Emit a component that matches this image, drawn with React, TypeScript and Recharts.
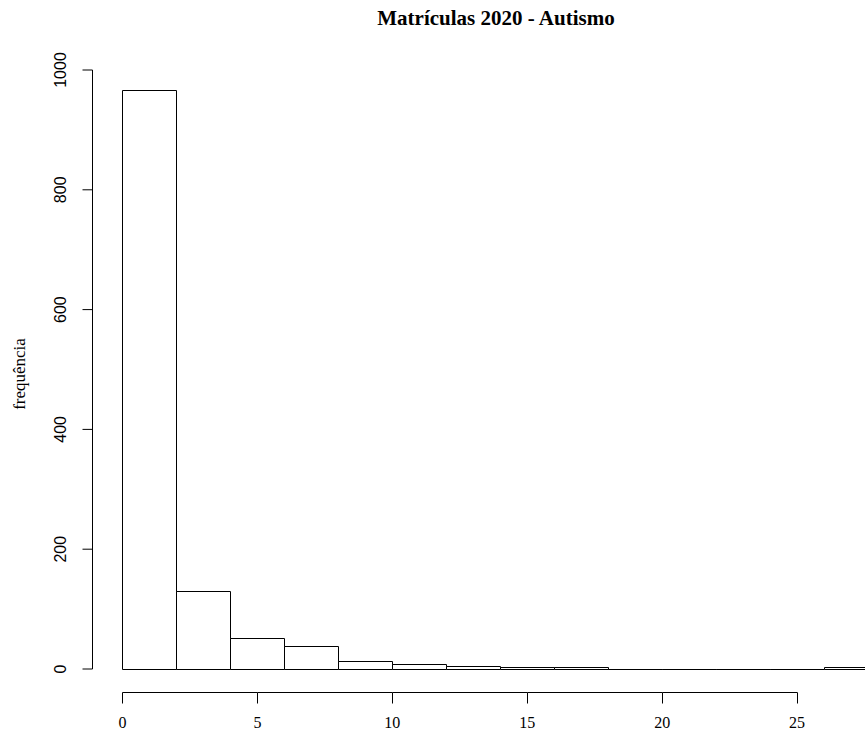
import { Bar, BarChart, XAxis, YAxis } from "recharts";

// histogram bins (width 2) and counts
const binStarts = [0, 2, 4, 6, 8, 10, 12, 14, 16, 18, 20, 22, 24, 26];
const binWidth = 2;
const counts = [966, 129, 51, 37, 13, 7, 5, 2, 2, 0, 0, 0, 0, 2];
const xTicks = [0, 5, 10, 15, 20, 25];
const yTicks = [0, 200, 400, 600, 800, 1000];

const title = "Matrículas 2020 - Autismo";
const yLabel = "frequência";

const data = binStarts.map((start, i) => ({
  bin: `${start}-${start + binWidth}`,
  mid: start + binWidth / 2,
  count: counts[i],
}));

const CHART_W = 920;
const CHART_H = 745;
const MARGIN = { top: 70, right: 17, bottom: 0, left: 0.5 };
const Y_AXIS_W = 92;
const X_AXIS_H = 76;
const PAD = { left: 30, right: 25 };
const X_MAX = binStarts[binStarts.length - 1] + binWidth;
const plotW = CHART_W - MARGIN.left - MARGIN.right - Y_AXIS_W;
const plotBottom = CHART_H - MARGIN.bottom - X_AXIS_H;
const unitPx = (plotW - PAD.left - PAD.right) / X_MAX;

const HistBar = (props: any) => {
  const { x, y, width, height } = props;
  const x0 = Math.floor(x) + 0.5;
  const x1 = Math.floor(x + width) + 0.5;
  const y0 = Math.floor(y) + 0.5;
  const y1 = Math.floor(y + height) + 0.5;
  return (
    <path
      d={`M${x0},${y1} L${x0},${y0} L${x1},${y0} L${x1},${y1} Z`}
      fill="#fff"
      stroke="#000"
      strokeWidth={1}
    />
  );
};

const XTick = (props: any) => {
  const { x, payload } = props;
  const lineY = plotBottom + 23.5;
  const px = Math.floor(x) + 0.5;
  const isLast = payload.value === xTicks[xTicks.length - 1];
  const step = (xTicks[1] - xTicks[0]) * unitPx;
  return (
    <g>
      {!isLast && (
        <line x1={px} y1={lineY} x2={px + step} y2={lineY} stroke="#000" />
      )}
      <line x1={px} y1={lineY} x2={px} y2={lineY + 11} stroke="#000" />
      <text
        x={x}
        y={plotBottom + 59}
        textAnchor="middle"
        fontFamily="'Liberation Serif', serif"
        fontSize={16}
        fill="#000"
      >
        {payload.value}
      </text>
    </g>
  );
};

const YTick = (props: any) => {
  const { x, y, payload } = props;
  const cx = x - 22;
  return (
    <text
      x={cx}
      y={y}
      transform={`rotate(-90, ${cx}, ${y})`}
      textAnchor="middle"
      dominantBaseline="central"
      fontFamily="'Liberation Sans', Arial, sans-serif"
      fontSize={16}
      fill="#000"
    >
      {payload.value}
    </text>
  );
};

export default function App() {
  return (
    <div
      style={{
        position: "fixed",
        left: 0,
        top: 0,
        width: 865,
        height: 745,
        overflow: "hidden",
        background: "#fff",
      }}
    >
      <BarChart
        width={CHART_W}
        height={CHART_H}
        data={data}
        margin={MARGIN}
        barCategoryGap={0}
        barGap={0}
      >
        <XAxis xAxisId="bins" dataKey="bin" hide padding={PAD} />
        <XAxis
          xAxisId="num"
          dataKey="mid"
          type="number"
          domain={[0, X_MAX]}
          allowDataOverflow
          ticks={xTicks}
          padding={PAD}
          height={X_AXIS_H}
          axisLine={false}
          tickLine={false}
          tickSize={0}
          tickMargin={0}
          tick={<XTick />}
          interval={0}
        />
        <YAxis
          width={Y_AXIS_W}
          domain={[0, 1000]}
          ticks={yTicks}
          interval={0}
          axisLine={{ stroke: "#000" }}
          tickLine={{ stroke: "#000" }}
          tickSize={10}
          tickMargin={0}
          tick={<YTick />}
        />
        <Bar
          xAxisId="bins"
          dataKey="count"
          shape={<HistBar />}
          isAnimationActive={false}
        />
      </BarChart>
      <svg
        width={865}
        height={745}
        style={{ position: "absolute", left: 0, top: 0, pointerEvents: "none" }}
      >
        <text
          x={496}
          y={25}
          textAnchor="middle"
          fontFamily="'Liberation Serif', serif"
          fontWeight="bold"
          fontSize={21}
          fill="#000"
        >
          {title}
        </text>
        <text
          x={19}
          y={374}
          transform="rotate(-90, 19, 374)"
          textAnchor="middle"
          dominantBaseline="central"
          fontFamily="'Liberation Serif', serif"
          fontSize={17}
          fill="#000"
        >
          {yLabel}
        </text>
      </svg>
    </div>
  );
}
